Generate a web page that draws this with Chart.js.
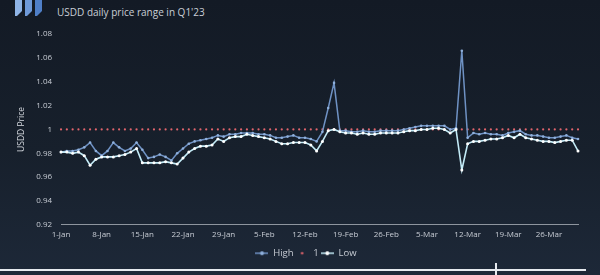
<!DOCTYPE html>
<html>
<head>
<meta charset="utf-8">
<script src="https://cdn.jsdelivr.net/npm/chart.js@4.4.0/dist/chart.umd.min.js"></script>
<style>
html, body { margin: 0; padding: 0; }
body {
    width: 600px; height: 275px; overflow: hidden; position: relative;
    background: linear-gradient(180deg, #131a25 0%, #17202c 55%, #1d2838 100%);
    font-family: "Open Sans", sans-serif;
}
#logo { position: absolute; left: 15px; top: 0; }
.subtitle { position: absolute; left: 57px; top: 5px; color: #c9ced6; font-size: 10px; }
#wrap { position: absolute; left: 0; top: 0; width: 600px; height: 275px; }
.rule { position: absolute; left: 0; top: 269px; width: 586px; height: 2px; background: #e6eaef; }
.mark { position: absolute; left: 495px; top: 263px; width: 2px; height: 12px; background: #e6eaef; }
</style>
</head>
<body>
<svg id="logo" width="30" height="16" viewBox="0 0 30 16">
    <polygon points="0,0 7,0 7,11 2,16 0,16" fill="#8fb4e6"/>
    <polygon points="10,0 17,0 17,11 12,16 10,16" fill="#6f9ad9"/>
    <polygon points="20,0 27,0 27,11 22,16 20,16" fill="#4f7fc8"/>
</svg>
<div class="subtitle">USDD daily price range in Q1'23</div>
<div id="wrap"><canvas id="chart" width="600" height="275"></canvas></div>
<div class="rule"></div>
<div class="mark"></div>

<script>
// ================= DATA =================
const months = ["Jan", "Feb", "Mar"];
const monthDays = [31, 28, 31];

const highPrice = [
    0.981, 0.982, 0.982, 0.983, 0.985, 0.989, 0.982, 0.978, 0.982, 0.989,
    0.985, 0.982, 0.984, 0.989, 0.983, 0.976, 0.977, 0.979, 0.977, 0.974,
    0.980, 0.984, 0.988, 0.990, 0.991, 0.992, 0.993, 0.995, 0.994, 0.996,
    0.996, 0.997, 0.997, 0.997, 0.996, 0.996, 0.995, 0.993, 0.993, 0.994,
    0.995, 0.993, 0.993, 0.992, 0.990, 0.998, 1.018, 1.039, 0.999, 0.999,
    0.998, 0.998, 0.999, 0.998, 0.998, 0.999, 0.999, 0.999, 0.999, 1.000,
    1.001, 1.002, 1.003, 1.003, 1.003, 1.003, 1.003, 1.000, 1.001, 1.066,
    0.993, 0.997, 0.996, 0.997, 0.996, 0.996, 0.995, 0.997, 0.998, 0.999,
    0.996, 0.995, 0.995, 0.994, 0.993, 0.993, 0.994, 0.995, 0.993, 0.992
];

const lowPrice = [
    0.981, 0.981, 0.980, 0.981, 0.978, 0.970, 0.975, 0.977, 0.977, 0.977,
    0.978, 0.979, 0.981, 0.984, 0.972, 0.972, 0.972, 0.972, 0.973, 0.972,
    0.971, 0.976, 0.981, 0.984, 0.986, 0.986, 0.987, 0.992, 0.990, 0.993,
    0.994, 0.994, 0.996, 0.995, 0.994, 0.993, 0.992, 0.990, 0.988, 0.988,
    0.989, 0.989, 0.989, 0.987, 0.982, 0.990, 0.999, 1.000, 0.998, 0.997,
    0.997, 0.996, 0.997, 0.996, 0.996, 0.997, 0.997, 0.997, 0.997, 0.998,
    0.999, 0.999, 1.000, 1.000, 1.001, 1.001, 1.000, 0.997, 1.000, 0.966,
    0.988, 0.990, 0.990, 0.991, 0.992, 0.992, 0.993, 0.995, 0.993, 0.996,
    0.993, 0.992, 0.991, 0.990, 0.990, 0.989, 0.990, 0.991, 0.991, 0.982
];

const pegValue = 1;

const yTicks = [0.92, 0.94, 0.96, 0.98, 1, 1.02, 1.04, 1.06, 1.08];


// ================= LABELS =================
const labels = [];
months.forEach((m, i) => {
    for (let d = 1; d <= monthDays[i]; d++) labels.push(d + "-" + m);
});
const pegLine = labels.map(() => pegValue);


// ================= LEGEND ICONS =================
function makeIcon(lineColor, dotColor, withLine) {
    const c = document.createElement("canvas");
    c.width = 13;
    c.height = 6;
    const ctx = c.getContext("2d");
    if (withLine) {
        ctx.strokeStyle = lineColor;
        ctx.lineWidth = 1.5;
        ctx.beginPath();
        ctx.moveTo(0, 3);
        ctx.lineTo(13, 3);
        ctx.stroke();
    }
    ctx.fillStyle = dotColor;
    ctx.beginPath();
    ctx.arc(6.5, 3, withLine ? 2 : 1.3, 0, Math.PI * 2);
    ctx.fill();
    return c;
}

const HIGH_COLOR = "#6f92c4";
const LOW_COLOR = "#c3ebf7";
const PEG_COLOR = "#e0646c";
const TEXT_COLOR = "#c7ccd4";

const icons = [
    makeIcon(HIGH_COLOR, "#8fb0dc", true),
    makeIcon(PEG_COLOR, PEG_COLOR, false),
    makeIcon(LOW_COLOR, "#ffffff", true)
];

// nudge the legend a bit to the right, like the original
const legendShift = {
    id: "legendShift",
    afterLayout(chart) {
        if (chart.legend) {
            chart.legend.left += 9;
            chart.legend.right += 9;
        }
    }
};


// ================= CHART =================
new Chart(document.getElementById("chart"), {
    type: "line",
    data: {
        labels: labels,
        datasets: [
            {
                label: "High",
                data: highPrice,
                borderColor: HIGH_COLOR,
                borderWidth: 1.5,
                pointRadius: 1.3,
                pointBackgroundColor: "#8fb0dc",
                pointBorderWidth: 0,
                tension: 0,
                order: 2
            },
            {
                label: "1",
                data: pegLine,
                showLine: false,
                pointRadius: 1.1,
                pointBackgroundColor: PEG_COLOR,
                pointBorderWidth: 0,
                order: 3
            },
            {
                label: "Low",
                data: lowPrice,
                borderColor: LOW_COLOR,
                borderWidth: 1.6,
                pointRadius: 1.5,
                pointBackgroundColor: "#ffffff",
                pointBorderWidth: 0,
                tension: 0,
                order: 1
            }
        ]
    },
    plugins: [legendShift],
    options: {
        responsive: false,
        animation: false,
        layout: {
            padding: { top: 34, left: 16, right: 22, bottom: 7 }
        },
        plugins: {
            tooltip: { enabled: false },
            legend: {
                position: "bottom",
                labels: {
                    color: TEXT_COLOR,
                    font: { family: "Open Sans", size: 9.5 },
                    usePointStyle: true,
                    pointStyleWidth: 13,
                    padding: 2,
                    generateLabels: (chart) => chart.data.datasets.map((ds, i) => ({
                        text: ds.label,
                        fontColor: TEXT_COLOR,
                        pointStyle: icons[i],
                        datasetIndex: i,
                        lineWidth: 0,
                        hidden: false
                    }))
                }
            }
        },
        scales: {
            x: {
                grid: { display: false, drawTicks: false },
                border: { display: true, color: "#8e959e", width: 1 },
                afterFit: (axis) => { axis.height += 2; },
                ticks: {
                    color: TEXT_COLOR,
                    font: { family: "Open Sans", size: 8 },
                    autoSkip: false,
                    maxRotation: 0,
                    padding: 5,
                    callback: (val, idx) => (idx % 7 === 0 ? labels[idx] : "")
                }
            },
            y: {
                min: 0.92,
                max: 1.08,
                afterBuildTicks: (axis) => {
                    axis.ticks = yTicks.map(v => ({ value: v }));
                },
                grid: { display: false, drawTicks: false },
                border: { display: false },
                title: {
                    display: true,
                    text: "USDD Price",
                    color: "#d6dae0",
                    font: { family: "Open Sans", size: 8.5 },
                    padding: { top: 0, bottom: 1 }
                },
                ticks: {
                    color: TEXT_COLOR,
                    font: { family: "Open Sans", size: 8 },
                    padding: 9,
                    callback: (v) => String(+Number(v).toFixed(2))
                }
            }
        }
    }
});
</script>
</body>
</html>
